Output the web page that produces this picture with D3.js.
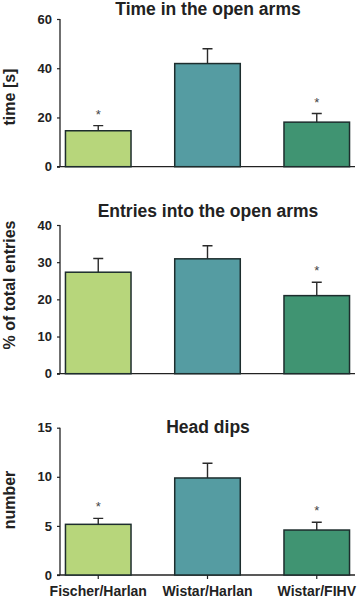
<!DOCTYPE html>
<html><head><meta charset="utf-8">
<script src="https://cdn.jsdelivr.net/npm/d3@7"></script>
<style>body{margin:0;background:#fff}svg{display:block}</style>
</head><body>
<svg id="c" width="358" height="600"></svg>
<script>
const categories = ["Fischer/Harlan", "Wistar/Harlan", "Wistar/FIHV"];
const colors = ["#b7d67b", "#559ca2", "#409472"];

const timeMean = [14.6, 41.9, 18.1];
const timeErr = [2.1, 6.0, 3.5];
const timeSig = [true, false, true];
const timeTicks = [0, 20, 40, 60];

const entriesMean = [27.3, 30.9, 21.0];
const entriesErr = [3.7, 3.5, 3.6];
const entriesSig = [false, false, true];
const entriesTicks = [0, 10, 20, 30, 40];

const dipsMean = [5.16, 9.88, 4.58];
const dipsErr = [0.61, 1.5, 0.79];
const dipsSig = [true, false, true];
const dipsTicks = [0, 5, 10, 15];

const panels = [
  {title: "Time in the open arms", ylabel: "time [s]", mean: timeMean, err: timeErr, sig: timeSig, ticks: timeTicks,
   y0: 166.7, y1: 19, titleY: 14.5, labelY: 97, xTicks: false},
  {title: "Entries into the open arms", ylabel: "% of total entries", mean: entriesMean, err: entriesErr, sig: entriesSig, ticks: entriesTicks,
   y0: 373.7, y1: 225, titleY: 216.7, labelY: 285, xTicks: false},
  {title: "Head dips", ylabel: "number", mean: dipsMean, err: dipsErr, sig: dipsSig, ticks: dipsTicks,
   y0: 575, y1: 427.7, titleY: 432.5, labelY: 500, xTicks: true}
];

const svg = d3.select("#c");
const font = "'Liberation Sans', Arial, sans-serif";
const ink = "#222";

const x = d3.scaleBand().domain(categories).range([60, 355]).paddingInner(0.4).paddingOuter(0.05);

panels.forEach(p => {
  const g = svg.append("g");
  const y = d3.scaleLinear().domain([0, d3.max(p.ticks)]).range([p.y0, p.y1]);

  const ya = g.append("g").attr("transform", "translate(60,0)")
    .call(d3.axisLeft(y).tickValues(p.ticks).tickSize(3).tickPadding(5).tickFormat(d3.format("d")));
  ya.select(".domain").attr("stroke", ink).attr("stroke-width", 1.3).attr("d", `M0,${p.y1}V${p.y0}`);
  ya.selectAll(".tick line").attr("stroke", ink).attr("stroke-width", 1.2);
  ya.selectAll(".tick text").attr("fill", ink).style("font-family", font).style("font-weight", "bold").style("font-size", "13px");

  const xa = g.append("g").attr("transform", `translate(0,${p.y0})`)
    .call(d3.axisBottom(x).tickSize(p.xTicks ? 4 : 0).tickPadding(p.xTicks ? 7 : 0).tickFormat(p.xTicks ? (d => d) : () => ""));
  xa.select(".domain").attr("stroke", ink).attr("stroke-width", 1.3).attr("d", "M57,0H355");
  xa.selectAll(".tick line").attr("stroke", ink).attr("stroke-width", 1.2);
  xa.selectAll(".tick text").attr("fill", ink).style("font-family", font).style("font-weight", "bold").style("font-size", "14px");

  const data = categories.map((c, i) => ({c, m: p.mean[i], e: p.err[i], s: p.sig[i], col: colors[i]}));
  g.selectAll(".err").data(data).join("path")
    .attr("d", d => {
      const cx = x(d.c) + x.bandwidth() / 2;
      return `M${cx},${y(d.m)}V${y(d.m + d.e)}M${cx - 5},${y(d.m + d.e)}H${cx + 5}`;
    })
    .attr("stroke", "#2a2a2a").attr("stroke-width", 1.4).attr("fill", "none");

  g.selectAll(".bar").data(data).join("rect")
    .attr("x", d => x(d.c)).attr("width", x.bandwidth())
    .attr("y", d => y(d.m)).attr("height", d => y(0) - y(d.m))
    .attr("fill", d => d.col).attr("stroke", "#1d2d2d").attr("stroke-width", 1.5);

  g.selectAll(".sig").data(data.filter(d => d.s)).join("text")
    .attr("x", d => x(d.c) + x.bandwidth() / 2)
    .attr("y", d => y(d.m + d.e) - 7)
    .attr("text-anchor", "middle")
    .attr("fill", "#444").style("font-family", font).style("font-size", "13px")
    .text("*");

  g.append("text").attr("x", 208).attr("y", p.titleY).attr("text-anchor", "middle")
    .attr("fill", ink).style("font-family", font).style("font-weight", "bold").style("font-size", "17.5px")
    .text(p.title);

  g.append("text").attr("transform", `translate(15,${p.labelY}) rotate(-90)`).attr("text-anchor", "middle")
    .attr("fill", ink).style("font-family", font).style("font-weight", "bold").style("font-size", "16px")
    .text(p.ylabel);
});
</script>
</body></html>
